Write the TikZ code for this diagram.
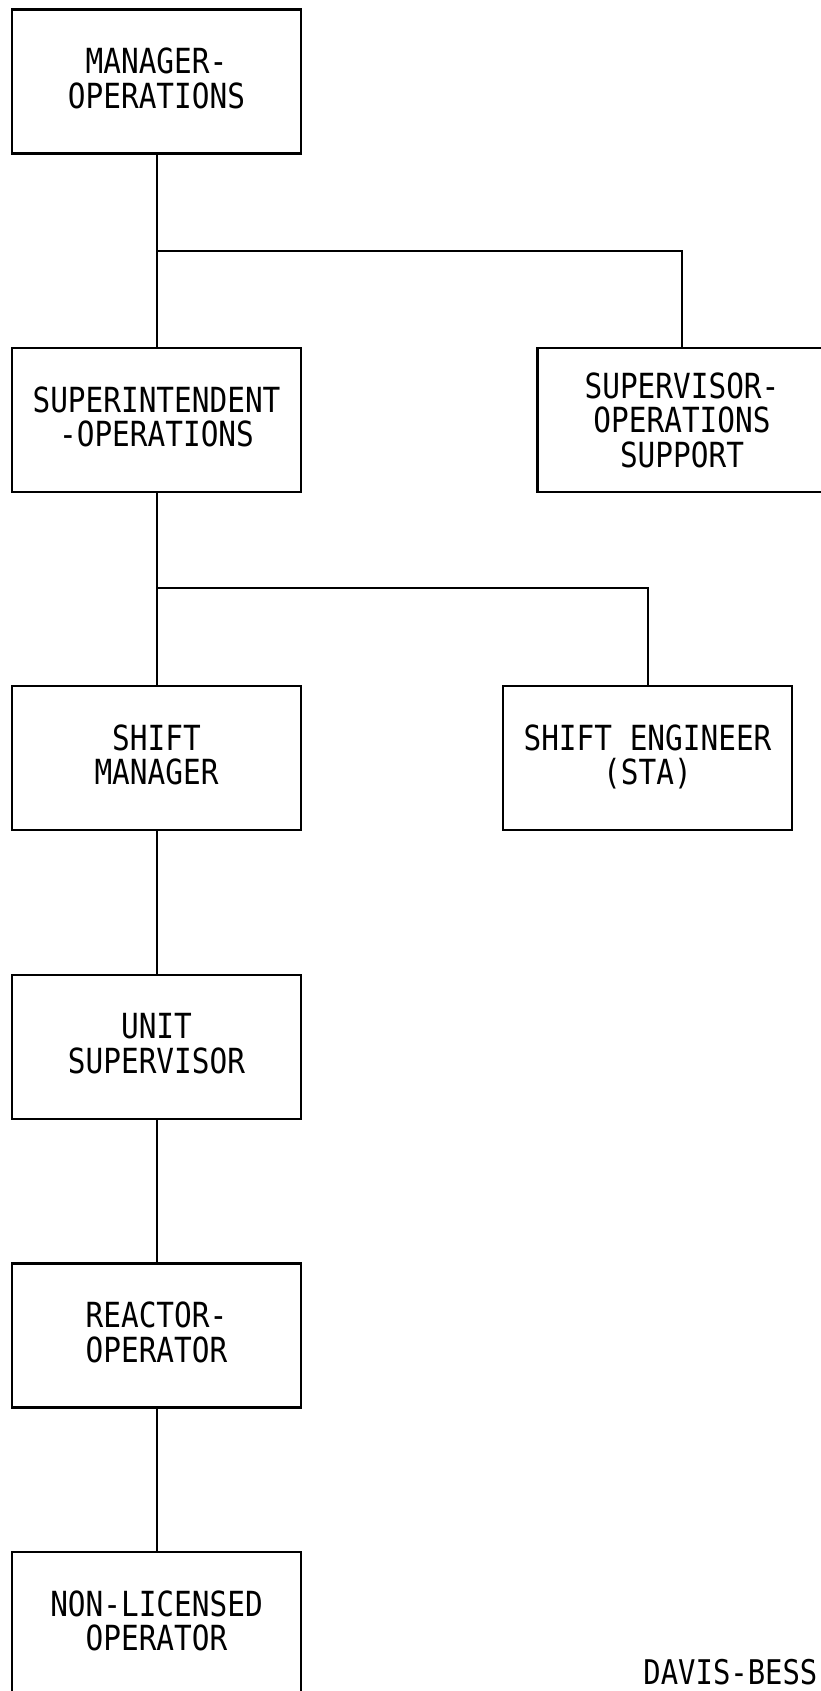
\documentclass[tikz,border=0pt]{standalone}
\usepackage{fontspec}
\usepackage{tikz}
\usetikzlibrary{positioning}
\newfontfamily\draftfont[FakeStretch=0.85]{DejaVu Sans Mono}
\tikzset{
  orgbox/.style={draw=black, line width=1.25pt, minimum width=144.5pt,
                 minimum height=72pt, inner sep=0pt, align=center, text depth=3.5pt,
                 font=\draftfont\fontsize{17.3}{17.2}\selectfont},
  link/.style={draw=black, line width=1pt}
}

\begin{document}
\begin{tikzpicture}[x=0.5pt, y=-0.5pt]
    \useasboundingbox (0,0) rectangle (820,1691);

    \node[orgbox] (mgr) at (156.5,81.5) {MANAGER-\\OPERATIONS};

    \node[orgbox] (supt) at (156.5,420) {SUPERINTENDENT\\-OPERATIONS};
    \node[orgbox, text depth=0pt] (supv) at (682,420)
      {SUPERVISOR-\\OPERATIONS\\SUPPORT};

    \node[orgbox] (shmgr) at (156.5,758) {SHIFT\\MANAGER};
    \node[orgbox] (sheng) at (647.5,758) {SHIFT ENGINEER\\(STA)};

    \node[orgbox] (unit) at (156.5,1047) {UNIT\\SUPERVISOR};
    \node[orgbox] (rop) at (156.5,1335.5) {REACTOR-\\OPERATOR};
    \node[orgbox] (nlo) at (156.5,1624) {NON-LICENSED\\OPERATOR};

    \node[anchor=base west, inner sep=0pt, font=\draftfont\fontsize{17}{17}\selectfont]
      (plant) at (643,1684) {DAVIS-BESS};

    \coordinate (j1) at (156.5,251);
    \coordinate (j2) at (156.5,588);

    \draw[link] (mgr) -- (supt);
    \draw[link] (j1) -| (supv);
    \draw[link] (supt) -- (shmgr);
    \draw[link] (j2) -| (sheng);
    \draw[link] (shmgr) -- (unit);
    \draw[link] (unit) -- (rop);
    \draw[link] (rop) -- (nlo);
  \end{tikzpicture}
\end{document}
